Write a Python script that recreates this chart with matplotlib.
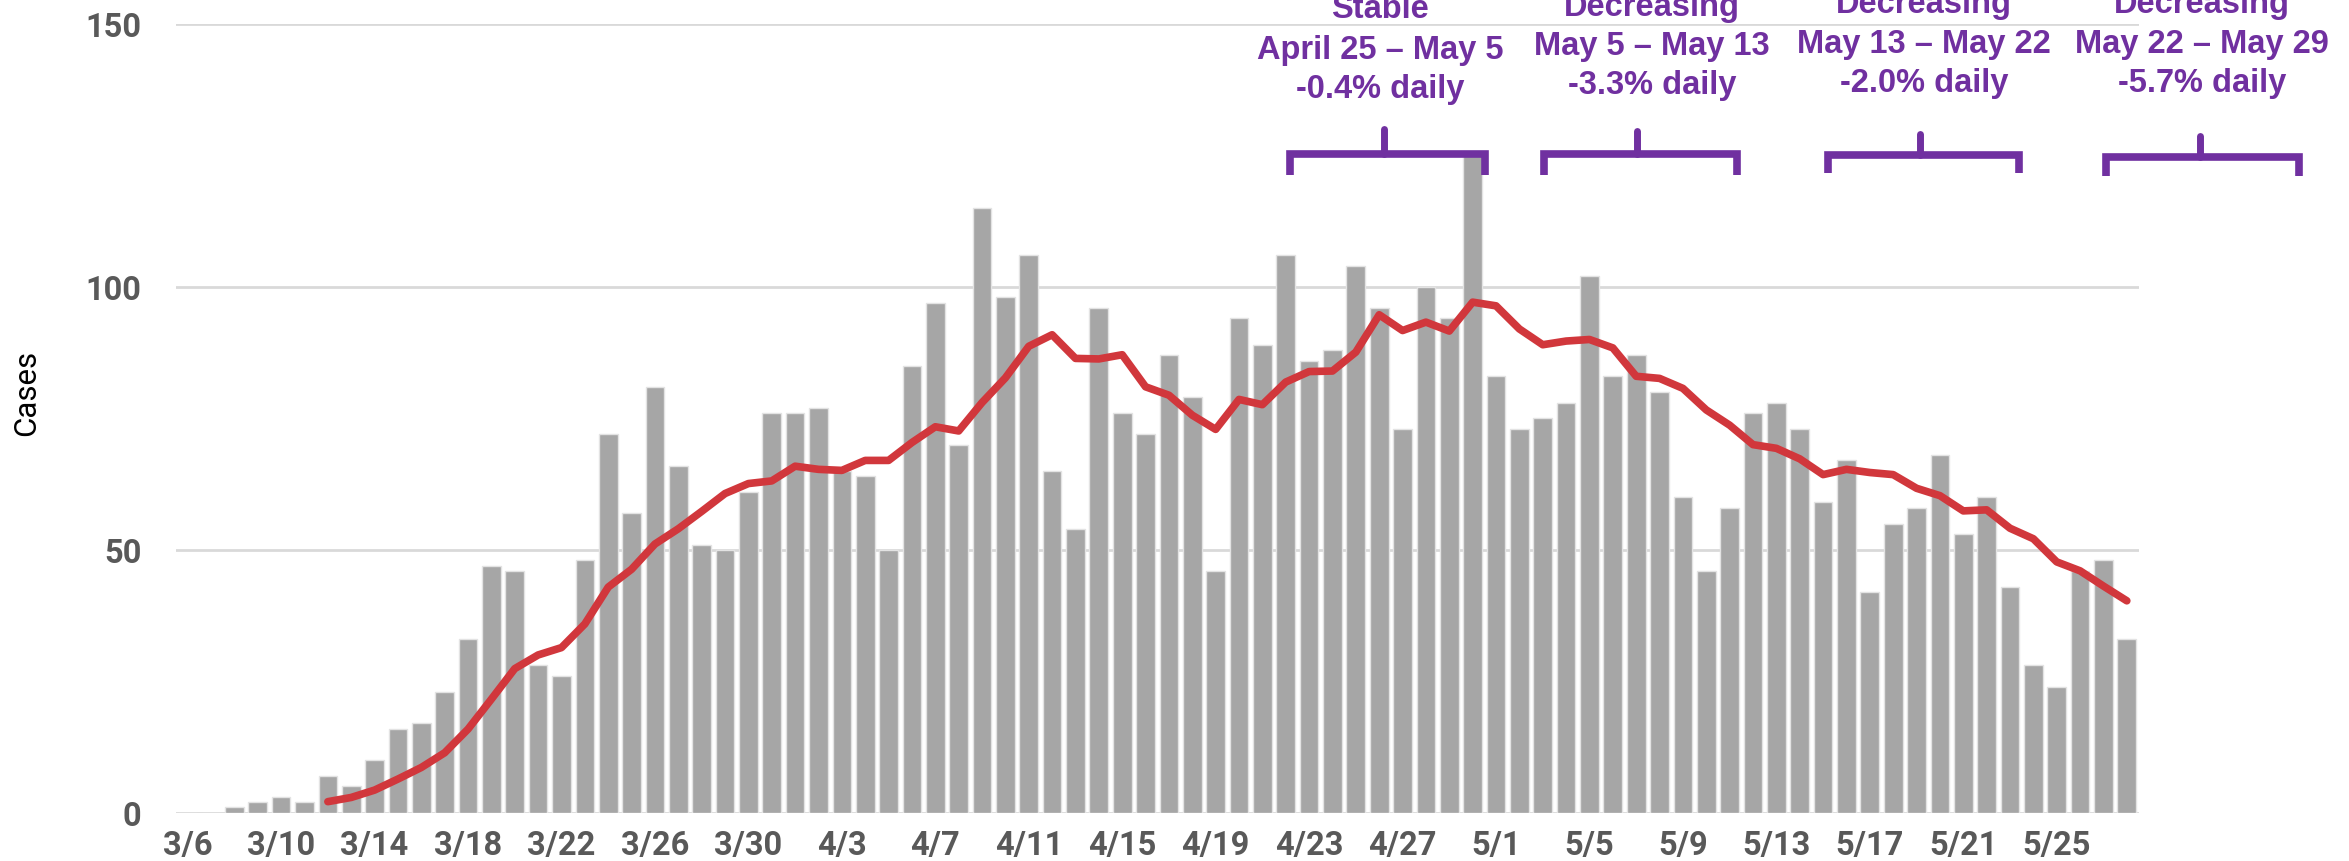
import numpy as np
import pandas as pd
import matplotlib.pyplot as plt
from matplotlib.lines import Line2D

# daily new cases, 3/6 .. 5/28
dates = pd.date_range('2020-03-06', periods=84, freq='D')
cases = [0, 0, 1, 2, 3, 2, 7, 5, 10, 16, 17, 23, 33, 47, 46, 28, 26, 48, 72, 57,
         81, 66, 51, 50, 61, 76, 76, 77, 65, 64, 50, 85, 97, 70, 115, 98, 106, 65, 54, 96,
         76, 72, 87, 79, 46, 94, 89, 106, 86, 88, 104, 96, 73, 100, 94, 125, 83, 73, 75, 78,
         102, 83, 87, 80, 60, 46, 58, 76, 78, 73, 59, 67, 42, 55, 58, 68, 53, 60, 43, 28,
         24, 46, 48, 33]

# 7 day average line, starts 3/12
avg_start = 6
avg7 = [2.1, 2.9, 4.3, 6.4, 8.6, 11.4, 15.9, 21.6, 27.4, 30.0, 31.4, 35.9, 42.9, 46.3,
        51.1, 54.0, 57.3, 60.7, 62.6, 63.1, 65.9, 65.3, 65.1, 67.0, 67.0, 70.4, 73.4, 72.6,
        78.0, 82.7, 88.7, 90.9, 86.4, 86.3, 87.1, 81.0, 79.4, 75.6, 72.9, 78.6, 77.6, 81.9,
        83.9, 84.0, 87.6, 94.7, 91.7, 93.3, 91.6, 97.1, 96.4, 92.0, 89.0, 89.7, 90.0, 88.4,
        83.0, 82.6, 80.7, 76.6, 73.7, 70.0, 69.3, 67.3, 64.3, 65.3, 64.7, 64.3, 61.7, 60.3,
        57.4, 57.6, 54.1, 52.1, 47.7, 46.0, 43.1, 40.3]

# annotation texts
titles = ['Stable', 'Decreasing', 'Decreasing', 'Decreasing']
ranges = ['April 25 \u2013 May 5', 'May 5 \u2013 May 13', 'May 13 \u2013 May 22', 'May 22 \u2013 May 29']
rates = ['-0.4% daily', '-3.3% daily', '-2.0% daily', '-5.7% daily']

W, H = 2349, 862
purple = '#7030A0'
gray_txt = '#595959'

fig = plt.figure(figsize=(W / 100, H / 100), dpi=100)
ax = fig.add_axes([176 / W, 1 - 813.7 / H, 1962.5 / W, (813.7 - 25) / H])

x = np.arange(len(cases))
ax.bar(x, cases, width=0.8, color='#A6A6A6', edgecolor='#E3E3E3', linewidth=1, zorder=2)
ax.plot(x[avg_start:avg_start + len(avg7)], avg7, color='#D1373C', lw=5.5,
        solid_capstyle='round', solid_joinstyle='round', zorder=3)

ax.set_xlim(-0.5, len(cases) - 0.5)
ax.set_ylim(0, 150)
ax.set_yticks([0, 50, 100, 150])
ax.set_xticks(x[::4])
ax.set_xticklabels([f'{d.month}/{d.day}' for d in dates[::4]])
ax.grid(axis='y', color='#D9D9D9', lw=2, zorder=0)
ax.set_axisbelow(True)
for s in ax.spines.values():
    s.set_visible(False)
ax.tick_params(length=0)
ax.tick_params(axis='x', pad=12)
ax.tick_params(axis='y', pad=25)
for lab in ax.get_xticklabels() + ax.get_yticklabels():
    lab.set_fontfamily('Roboto')
    lab.set_fontweight('bold')
    lab.set_fontsize(23.5)
    lab.set_color(gray_txt)

ax.set_ylabel('Cases', fontfamily='Roboto', fontsize=22.5, color='black')
ax.yaxis.set_label_coords(-0.0685, 0.534)

# annotations (pixel positions)
text_x = [1380, 1652, 1924, 2202]
base_y = [[18, 59, 98], [16, 55, 94], [13, 53, 92], [13, 53, 92]]
for i in range(4):
    for txt, by in zip([titles[i], ranges[i], rates[i]], base_y[i]):
        fig.text(text_x[i] / W, 1 - by / H, txt, ha='center', va='baseline',
                 fontfamily='Liberation Sans', fontweight='bold', fontsize=23.5,
                 color=purple)

# brackets: left, right, horizontal y, bottom y, centre x, top y
brackets = [(1290, 1485, 155, 176, 1384, 130),
            (1544, 1737, 155, 176, 1637, 132),
            (1828, 2019, 156, 174, 1920, 135),
            (2106, 2299, 158, 177, 2200, 137)]
for l, r, hy, by, cx, ty in brackets:
    fig.add_artist(Line2D([l / W, l / W, r / W, r / W],
                          [1 - by / H, 1 - hy / H, 1 - hy / H, 1 - by / H],
                          transform=fig.transFigure, color=purple, lw=5.5,
                          solid_joinstyle='miter', solid_capstyle='butt'))
    fig.add_artist(Line2D([cx / W, cx / W], [1 - hy / H, 1 - ty / H],
                          transform=fig.transFigure, color=purple, lw=5,
                          solid_capstyle='round'))

fig.savefig('out.png', dpi=100)
